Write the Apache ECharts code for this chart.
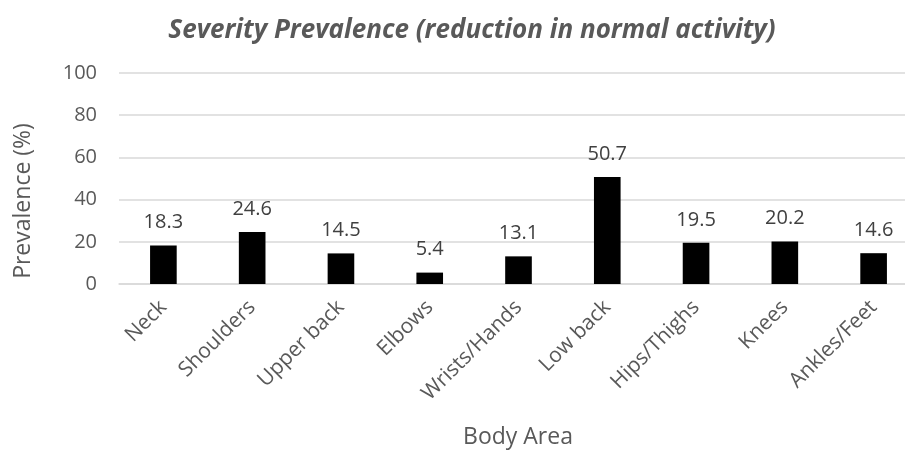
<!DOCTYPE html>
<html>
<head>
<meta charset="utf-8">
<script src="https://cdn.jsdelivr.net/npm/echarts@6/dist/echarts.min.js"></script>
<style>
html,body{margin:0;padding:0;background:#fff;}
#chart{width:905px;height:453px;}
</style>
</head>
<body>
<div id="chart"></div>
<script>
const titleText = 'Severity Prevalence (reduction in normal activity)';
const xAxisName = 'Body Area';
const yAxisName = 'Prevalence (%)';
const categories = ['Neck', 'Shoulders', 'Upper back', 'Elbows', 'Wrists/Hands', 'Low back', 'Hips/Thighs', 'Knees', 'Ankles/Feet'];
const values = [18.3, 24.6, 14.5, 5.4, 13.1, 50.7, 19.5, 20.2, 14.6];
const yMin = 0, yMax = 100, yStep = 20;

const FONT = '"Open Sans", "Noto Sans", sans-serif';
const chart = echarts.init(document.getElementById('chart'), null, {renderer: 'canvas'});
chart.setOption({
  animation: false,
  backgroundColor: '#ffffff',
  title: {
    text: titleText,
    left: 467, top: 13, textAlign: 'center',
    textStyle: {fontFamily: FONT, fontSize: 26, fontWeight: 'bold', fontStyle: 'italic', color: '#595959'}
  },
  grid: {left: 119, top: 73, width: 799, bottom: 169, containLabel: false, outerBoundsMode: 'none'},
  xAxis: {
    type: 'category',
    data: categories,
    axisLine: {show: true, lineStyle: {color: '#d9d9d9', width: 1.5}},
    axisTick: {show: false},
    axisLabel: {rotate: 45, margin: 20, fontFamily: FONT, fontSize: 21, color: '#595959', interval: 0}
  },
  yAxis: {
    type: 'value',
    min: yMin, max: yMax, interval: yStep,
    axisLine: {show: false},
    axisTick: {show: false},
    splitLine: {show: true, lineStyle: {color: '#d9d9d9', width: 1.5}},
    axisLabel: {margin: 22, fontFamily: FONT, fontSize: 20, color: '#595959'}
  },
  graphic: [
    {type: 'text', x: 23, y: 201, rotation: Math.PI / 2,
     style: {text: yAxisName, fontFamily: FONT, fontSize: 23, fill: '#595959', textAlign: 'center', textVerticalAlign: 'middle'}},
    {type: 'text', x: 518, y: 437,
     style: {text: xAxisName, fontFamily: FONT, fontSize: 23, fill: '#595959', textAlign: 'center', textVerticalAlign: 'middle'}}
  ],
  series: [{
    type: 'bar',
    data: values,
    barWidth: '30%',
    itemStyle: {color: '#000000'},
    label: {show: true, position: 'top', distance: 13, fontFamily: FONT, fontSize: 20, color: '#404040',
      formatter: p => p.value.toFixed(1)}
  }]
});
</script>
</body>
</html>
